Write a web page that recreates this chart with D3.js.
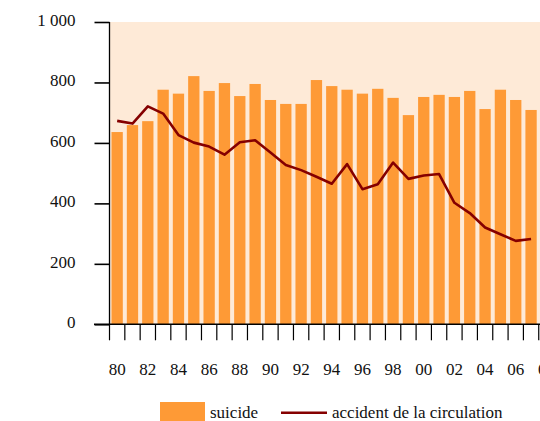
<!DOCTYPE html>
<html><head><meta charset="utf-8">
<script src="https://cdn.jsdelivr.net/npm/d3@7"></script>
<style>body{margin:0;background:#fff}svg{display:block}
svg text{font-family:"Liberation Serif","Times New Roman",Times,serif;}</style>
</head><body>
<script>
const years = d3.range(1980, 2009);
const suicide = [636,659,672,776,763,821,772,798,755,795,742,729,729,808,788,776,763,779,749,692,752,759,752,772,712,776,742,709];
const accident = [673,664,721,697,626,601,588,561,602,609,568,527,510,488,465,530,447,463,535,481,492,497,402,368,320,298,276,282];
const yTicks = [0,200,400,600,800,1000];
const seriesNames = ["suicide","accident de la circulation"];

const W = 540, H = 421;
const svg = d3.select("body").append("svg").attr("width", W).attr("height", H);
const FS = 17;

const xb = d3.scaleBand().domain(years).range([109.5, 109.5 + 15.33*years.length]);
const y = d3.scaleLinear().domain([0,1000]).range([324.3, 22]);

svg.append("rect").attr("x", 109.5).attr("y", y(1000)).attr("width", W).attr("height", y(0)-y(1000)).attr("fill", "#feead7");

svg.append("g").selectAll("rect").data(suicide).join("rect")
  .attr("x", (d,i)=>xb(years[i]) + 2)
  .attr("width", 11.3)
  .attr("y", d=>y(d)).attr("height", d=>y(0)-y(d))
  .attr("fill", "#fe9a36");

const line = d3.line().x((d,i)=>xb(years[i]) + xb.bandwidth()/2).y(d=>y(d));
svg.append("path").datum(accident).attr("d", line).attr("fill","none").attr("stroke","#850000").attr("stroke-width",2.6).attr("stroke-linejoin","round");

// y axis
const ya = svg.append("g").attr("transform","translate(109.5,0)")
  .call(d3.axisLeft(y).tickValues(yTicks).tickSize(15).tickPadding(19).tickFormat(d=>d===1000?"1 000":String(d)));
ya.attr("font-family", null).attr("font-size", null);
ya.select(".domain").attr("d", `M0,${y(1000)}V${y(0)}`).attr("stroke","#000").attr("stroke-width",1.3);
ya.selectAll(".tick line").attr("stroke","#000").attr("stroke-width",1.6);
ya.selectAll("text").attr("font-size", FS).attr("fill","#111").attr("dy","3.4px");

// x axis
const xg = svg.append("g").attr("transform",`translate(0,${y(0)})`);
xg.append("line").attr("x1",94).attr("x2",W).attr("y1",0).attr("y2",0).attr("stroke","#000").attr("stroke-width",1.6);
xg.selectAll("line.t").data(years).join("line").attr("class","t")
  .attr("x1",d=>xb(d)).attr("x2",d=>xb(d)).attr("y1",0).attr("y2",16).attr("stroke","#000").attr("stroke-width",1.2);
xg.selectAll("text").data(years.filter(d=>d%2===0)).join("text")
  .attr("x", d=>xb(d)+xb.bandwidth()/2).attr("y", 51)
  .attr("text-anchor","middle").attr("font-size",FS).attr("fill","#111")
  .text(d=>String(d).slice(2));

// legend
const lg = svg.append("g");
lg.append("rect").attr("x",160).attr("y",402).attr("width",45).attr("height",19).attr("fill","#fe9a36");
lg.append("text").attr("x",210).attr("y",418).attr("font-size",FS).attr("fill","#111").text(seriesNames[0]);
lg.append("line").attr("x1",281).attr("x2",327).attr("y1",412.7).attr("y2",412.7).attr("stroke","#850000").attr("stroke-width",2.6);
lg.append("text").attr("x",332).attr("y",418).attr("font-size",FS).attr("fill","#111").text(seriesNames[1]);
</script>
</body></html>
